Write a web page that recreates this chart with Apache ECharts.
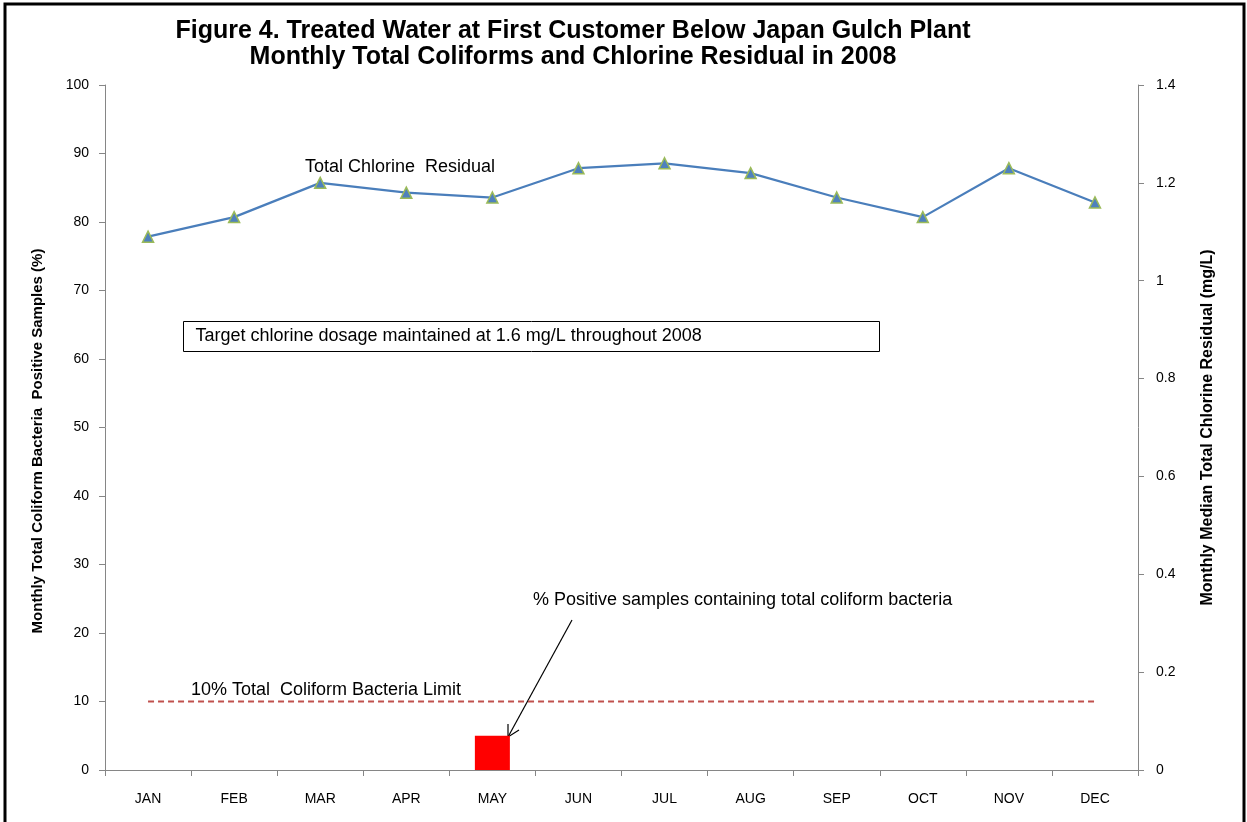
<!DOCTYPE html>
<html>
<head>
<meta charset="utf-8">
<script src="https://cdn.jsdelivr.net/npm/echarts@6/dist/echarts.min.js"></script>
<style>
  html, body { margin: 0; padding: 0; background: #fff; }
  #chart { width: 1247px; height: 822px; }
</style>
</head>
<body>
<div id="chart"></div>
<script>
const months = ['JAN', 'FEB', 'MAR', 'APR', 'MAY', 'JUN', 'JUL', 'AUG', 'SEP', 'OCT', 'NOV', 'DEC']
// % positive samples containing total coliform bacteria
const coliformPct = [0, 0, 0, 0, 5, 0, 0, 0, 0, 0, 0, 0]
// monthly median total chlorine residual (mg/L)
const chlorine = [1.09, 1.13, 1.20, 1.18, 1.17, 1.23, 1.24, 1.22, 1.17, 1.13, 1.23, 1.16]
// regulatory limit (%)
const coliformLimit = months.map(() => 10)

const chart = echarts.init(document.getElementById('chart'))
const axisGray = '#868686'
const font = '"Liberation Sans", Arial, sans-serif'
const noteFont = '18px ' + font

const option = {
  backgroundColor: '#fff',
  animation: false,
  title: {
    text: 'Figure 4. Treated Water at First Customer Below Japan Gulch Plant\nMonthly Total Coliforms and Chlorine Residual in 2008',
    left: 568,
    top: 13,
    textAlign: 'center',
    textStyle: { fontFamily: font, fontSize: 25, fontWeight: 'bold', color: '#000', lineHeight: 26 }
  },
  grid: { left: 105, right: 109, top: 85, bottom: 52 },
  xAxis: {
    type: 'category',
    data: months,
    boundaryGap: true,
    axisLine: { lineStyle: { color: axisGray } },
    axisTick: { show: true, length: 6, lineStyle: { color: axisGray } },
    axisLabel: { color: '#000', fontFamily: font, fontSize: 14, margin: 22 }
  },
  yAxis: [
    {
      type: 'value',
      min: 0, max: 100, interval: 10,
      axisLine: { show: true, lineStyle: { color: axisGray } },
      axisTick: { show: true, length: 6, lineStyle: { color: axisGray } },
      axisLabel: { color: '#000', fontFamily: font, fontSize: 14, margin: 16 },
      splitLine: { show: false }
    },
    {
      type: 'value',
      min: 0, max: 1.4, interval: 0.2,
      name: 'Monthly Median Total Chlorine Residual (mg/L)',
      nameLocation: 'middle',
      nameGap: 62,
      nameRotate: 90,
      nameTextStyle: { fontFamily: font, fontSize: 16, fontWeight: 'bold', color: '#000' },
      axisLine: { show: true, lineStyle: { color: axisGray } },
      axisTick: { show: true, length: 6, lineStyle: { color: axisGray } },
      axisLabel: {
        color: '#000', fontFamily: font, fontSize: 14, margin: 18,
        formatter: v => String(Math.round(v * 10) / 10)
      },
      splitLine: { show: false }
    }
  ],
  series: [
    {
      name: 'Coliform positive',
      type: 'bar',
      data: coliformPct,
      barWidth: 35,
      itemStyle: { color: '#FF0000' }
    },
    {
      name: 'Limit',
      type: 'line',
      data: coliformLimit,
      symbol: 'none',
      lineStyle: { color: '#C0504D', width: 2, type: [6, 4] }
    },
    {
      name: 'Total Chlorine Residual',
      type: 'line',
      yAxisIndex: 1,
      data: chlorine,
      symbol: 'triangle',
      symbolSize: 11,
      lineStyle: { color: '#4A7EBB', width: 2.2 },
      itemStyle: { color: '#4F81BD', borderColor: '#9BBB59', borderWidth: 1.5 }
    }
  ],
  graphic: [
    // outer frame
    {
      type: 'rect',
      shape: { x: 5, y: 4, width: 1239, height: 822 },
      style: { fill: 'none', stroke: '#000', lineWidth: 3 },
      silent: true
    },
    // left axis title (sits a little below the plot's middle in the original)
    {
      type: 'text', x: 38, y: 441, rotation: Math.PI / 2,
      style: {
        text: 'Monthly Total Coliform Bacteria  Positive Samples (%)',
        font: 'bold 15px ' + font, fill: '#000', align: 'center', verticalAlign: 'middle'
      }
    },
    {
      type: 'text', left: 305, top: 158,
      style: { text: 'Total Chlorine  Residual', font: noteFont, fill: '#000' }
    },
    {
      type: 'text', left: 191, top: 681,
      style: { text: '10% Total  Coliform Bacteria Limit', font: noteFont, fill: '#000' }
    },
    {
      type: 'text', left: 533, top: 591,
      style: { text: '% Positive samples containing total coliform bacteria', font: noteFont, fill: '#000' }
    },
    {
      type: 'group', left: 183, top: 321,
      children: [
        { type: 'rect', shape: { x: 0, y: 0, width: 696, height: 30 }, style: { fill: '#fff', stroke: '#000', lineWidth: 1 } },
        { type: 'text', x: 12, y: 6, style: { text: 'Target chlorine dosage maintained at 1.6 mg/L throughout 2008', font: noteFont, fill: '#000' } }
      ]
    },
    // arrow to the May bar
    {
      type: 'polyline',
      shape: { points: [[572, 620], [508, 737]] },
      style: { stroke: '#000', lineWidth: 1.2, fill: 'none' }
    },
    {
      type: 'polyline',
      shape: { points: [[508, 724], [508, 737], [519, 730]] },
      style: { stroke: '#000', lineWidth: 1.2, fill: 'none' }
    }
  ]
}

chart.setOption(option)
</script>
</body>
</html>
